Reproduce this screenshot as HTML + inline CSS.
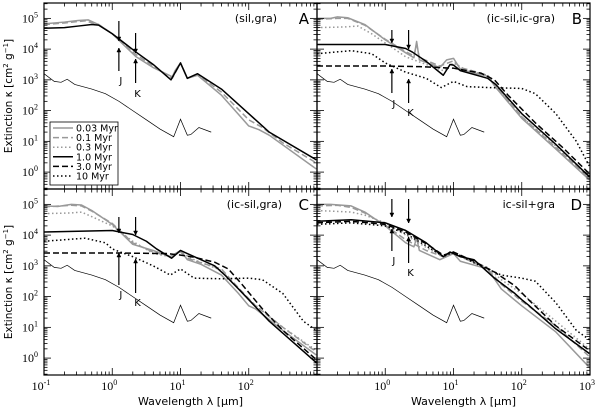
<!DOCTYPE html>
<html><head><meta charset="utf-8"><style>
html,body{margin:0;padding:0;background:#fff;}
svg{display:block;font-family:"DejaVu Sans","Liberation Sans",sans-serif;}
</style></head><body>
<svg id="chart" width="600" height="410" viewBox="0 0 600 410" xmlns="http://www.w3.org/2000/svg"></svg>
<script>
// ---- data: [log10 wavelength(um), log10 kappa] ----
const refThin = [[-1,3.2],[-0.85,2.95],[-0.75,2.92],[-0.66,3.02],[-0.55,2.85],[-0.3,2.7],[-0.1,2.55],[0.1,2.3],[0.3,2.0],[0.5,1.7],[0.7,1.4],[0.9,1.15],[1.0,1.72],[1.1,1.2],[1.15,1.22],[1.27,1.45],[1.45,1.3]];

const A_003 = [[-1,4.82],[-0.7,4.88],[-0.5,4.93],[-0.35,4.95],[-0.2,4.8],[0,4.5],[0.1,4.28],[0.35,3.75],[0.6,3.4],[0.88,3.1],[0.92,3.3],[1.0,3.55],[1.1,3.05],[1.25,3.15],[1.6,2.5],[1.9,1.75],[2.0,1.5],[2.15,1.38],[2.3,1.2],[2.99,0.1]];
const A_01 = [[-1,4.8],[-0.7,4.85],[-0.4,4.92],[-0.2,4.8],[0,4.5],[0.1,4.3],[0.35,3.82],[0.6,3.45],[0.88,3.05],[1.0,3.55],[1.1,3.05],[1.25,3.18],[1.6,2.6],[2.0,1.7],[2.2,1.45],[2.5,0.95],[2.99,0.3]];
const A_10 = [[-1,4.68],[-0.7,4.7],[-0.5,4.75],[-0.3,4.8],[-0.2,4.78],[0,4.5],[0.1,4.33],[0.35,3.9],[0.6,3.5],[0.86,3.0],[1.0,3.55],[1.1,3.05],[1.25,3.2],[1.6,2.7],[2.0,1.9],[2.3,1.3],[2.99,0.4]];

const B_003 = [[-1,5.0],[-0.8,5.0],[-0.7,5.05],[-0.55,5.02],[-0.3,4.8],[0,4.3],[0.3,3.88],[0.42,3.72],[0.46,4.25],[0.5,3.65],[0.8,3.4],[0.9,3.65],[1.0,3.7],[1.1,3.35],[1.3,3.22],[1.5,3.12],[1.62,2.75],[2.0,1.75],[2.5,0.75],[2.99,-0.25]];
const B_01 = [[-1,4.97],[-0.7,5.0],[-0.55,5.0],[-0.3,4.78],[0,4.32],[0.3,3.92],[0.42,3.78],[0.46,4.15],[0.5,3.72],[0.8,3.45],[1.0,3.62],[1.1,3.4],[1.3,3.28],[1.5,3.15],[1.62,2.8],[2.0,1.8],[2.5,0.8],[2.99,-0.2]];
const B_03 = [[-1,4.7],[-0.6,4.72],[-0.4,4.75],[-0.2,4.5],[0,4.2],[0.3,3.75],[0.6,3.5],[0.85,3.3],[1.0,3.55],[1.2,3.3],[1.5,3.15],[1.62,2.8],[2.0,1.8],[2.5,0.85],[2.99,-0.15]];
const B_10 = [[-1,4.15],[0,4.15],[0.3,4.02],[0.4,3.9],[0.6,3.6],[0.85,3.15],[0.95,3.5],[1.0,3.48],[1.1,3.3],[1.5,3.05],[1.62,2.85],[2.0,1.9],[2.5,0.9],[2.99,-0.15]];
const B_30 = [[-1,3.45],[0,3.45],[0.5,3.43],[1.0,3.38],[1.4,3.22],[1.6,3.0],[1.8,2.5],[2.2,1.6],[2.6,0.8],[2.99,-0.05]];
const B_100 = [[-1,3.85],[-0.5,3.95],[-0.2,3.85],[0,3.55],[0.3,3.25],[0.6,3.05],[0.82,2.75],[1.0,2.95],[1.2,2.78],[1.5,2.75],[2.0,2.72],[2.2,2.55],[2.5,1.9],[2.8,1.0],[2.99,0.2]];

const C_003 = [[-1,4.95],[-0.8,4.93],[-0.6,5.0],[-0.45,4.98],[-0.3,4.8],[0,4.35],[0.3,3.7],[0.6,3.5],[0.85,3.3],[1.0,3.5],[1.1,3.2],[1.3,3.05],[1.6,2.7],[1.85,2.1],[2.0,1.7],[2.1,1.6],[2.5,0.9],[2.99,0.1]];
const C_01 = [[-1,4.92],[-0.6,4.97],[-0.45,4.95],[-0.3,4.78],[0,4.38],[0.3,3.75],[0.6,3.45],[0.85,3.3],[1.0,3.45],[1.1,3.25],[1.3,3.1],[1.6,2.9],[1.8,2.4],[2.1,1.7],[2.5,1.0],[2.99,0.2]];
const C_03 = [[-1,4.7],[-0.6,4.72],[-0.45,4.75],[-0.2,4.5],[0,4.3],[0.3,3.8],[0.6,3.4],[0.85,3.3],[1.0,3.45],[1.2,3.2],[1.6,2.85],[2.0,1.9],[2.5,1.0],[2.99,0.25]];
const C_10 = [[-1,4.1],[0,4.15],[0.3,4.02],[0.5,3.8],[0.65,3.55],[0.87,3.25],[1.0,3.5],[1.1,3.4],[1.5,3.0],[1.65,2.7],[1.85,2.25],[2.0,1.9],[2.3,1.2],[2.99,-0.15]];
const C_30 = [[-1,3.42],[0,3.42],[0.8,3.4],[1.0,3.35],[1.2,3.28],[1.5,3.12],[1.7,2.9],[1.9,2.4],[2.2,1.6],[2.5,0.9],[2.99,-0.05]];
const C_100 = [[-1,3.8],[-0.4,3.9],[-0.1,3.75],[0,3.55],[0.3,3.3],[0.6,3.0],[0.85,2.7],[1.0,2.9],[1.2,2.6],[1.6,2.58],[2.0,2.6],[2.2,2.55],[2.5,2.1],[2.8,1.2],[2.99,0.9]];

const D_003 = [[-1,5.0],[-0.8,5.0],[-0.5,4.95],[-0.3,4.75],[0,4.3],[0.3,3.75],[0.42,3.62],[0.46,3.9],[0.5,3.5],[0.8,3.2],[1.0,3.4],[1.1,3.15],[1.5,2.9],[1.7,2.25],[2.0,1.7],[2.5,0.85],[2.99,-0.3]];
const D_01 = [[-1,4.95],[-0.7,4.97],[-0.5,4.9],[-0.3,4.72],[0,4.32],[0.3,3.85],[0.6,3.5],[0.85,3.3],[1.0,3.4],[1.2,3.2],[1.5,2.9],[1.7,2.4],[2.0,1.85],[2.5,1.05],[2.99,0.05]];
const D_03 = [[-1,4.8],[-0.5,4.75],[-0.3,4.65],[0,4.4],[0.3,4.0],[0.6,3.6],[0.85,3.3],[1.0,3.45],[1.2,3.2],[1.5,2.95],[1.7,2.55],[2.0,2.1],[2.5,1.2],[2.99,0.3]];
const D_10 = [[-1,4.45],[-0.5,4.5],[0,4.4],[0.3,4.15],[0.6,3.75],[0.85,3.3],[0.95,3.45],[1.1,3.3],[1.3,3.2],[1.6,2.6],[1.9,2.1],[2.0,1.9],[2.1,1.72],[2.5,0.95],[2.99,0.15]];
const D_30 = [[-1,4.4],[-0.5,4.45],[0,4.35],[0.3,4.1],[0.6,3.72],[0.85,3.35],[1.0,3.45],[1.3,3.15],[1.6,2.8],[1.9,2.35],[2.1,1.9],[2.5,1.05],[2.99,0.25]];
const D_100 = [[-1,4.35],[-0.5,4.4],[0,4.3],[0.3,4.05],[0.6,3.65],[0.85,3.3],[1.0,3.45],[1.3,3.1],[1.7,2.7],[2.0,2.6],[2.2,2.5],[2.5,1.8],[2.8,0.9],[2.99,0.6]];

const ageLabels = ["0.03 Myr","0.1 Myr","0.3 Myr","1.0 Myr","3.0 Myr","10 Myr"];
const yTickExp = [0,1,2,3,4,5];
const xTickExp = [-1,0,1,2,3];

const styles = [
  {c:"#999", d:""},{c:"#999", d:"6,3"},{c:"#999", d:"1.5,2.5"},
  {c:"#000", d:""},{c:"#000", d:"6,3"},{c:"#000", d:"1.5,2.5"}];

const panels = [
  {id:"A", x0:44, y0:3, label:"(sil,gra)", series:[A_003,A_01,null,A_10,null,null], xl:false, yl:true, arrows:[[0.097,18,38,68,45,72],[0.342,30,50,80,56,85]]},
  {id:"B", x0:317, y0:3, label:"(ic-sil,ic-gra)", series:[B_003,B_01,B_03,B_10,B_30,B_100], xl:false, yl:false, arrows:[[0.097,27,40,90,66,95],[0.342,27,46,100,76,104]]},
  {id:"C", x0:44, y0:189, label:"(ic-sil,gra)", series:[C_003,C_01,C_03,C_10,C_30,C_100], xl:true, yl:true, arrows:[[0.097,28,44,96,64,100],[0.342,28,46,104,70,108]]},
  {id:"D", x0:317, y0:189, label:"ic-sil+gra", series:[D_003,D_01,D_03,D_10,D_30,D_100], xl:true, yl:false, arrows:[[0.097,10,28,62,40,66],[0.342,10,34,74,48,78]]}
];
const W=273, H=186, XMIN=-1, XMAX=3, YMIN=-0.55, YMAX=5.5;

const svg=document.getElementById('chart');
const NS="http://www.w3.org/2000/svg";
function mk(tag,attrs,parent){const e=document.createElementNS(NS,tag);for(const k in attrs)e.setAttribute(k,attrs[k]);(parent||svg).appendChild(e);return e;}

panels.forEach((p,pi)=>{
  const sx=v=>p.x0+(v-XMIN)/(XMAX-XMIN)*W;
  const sy=v=>p.y0+H-(v-YMIN)/(YMAX-YMIN)*H;
  const g=mk('g',{});
  
  
  const cp=mk('clipPath',{id:'clip'+p.id},g);
  mk('rect',{x:p.x0,y:p.y0,width:W,height:H},cp);
  const plot=mk('g',{'clip-path':'url(#clip'+p.id+')'},g);
  const rl=mk('polyline',{points:refThin.map(d=>sx(d[0])+','+sy(d[1])).join(' '),fill:'none',stroke:'#000','stroke-width':0.7},plot);
  
  
  p.series.forEach((s,si)=>{
    if(!s)return;
    const st=styles[si];
    const l=mk('polyline',{points:s.map(d=>sx(d[0])+','+sy(d[1])).join(' '),fill:'none',stroke:st.c,'stroke-width':1.5,'stroke-dasharray':st.d,'stroke-linejoin':'round'},plot);
    
    
  });
  const tk=mk('g',{stroke:'#000','stroke-width':0.8},g);
  for(let e=-1;e<3;e++)for(let m=1;m<10;m++){
    const v=e+Math.log10(m); const x=sx(v); const L=m==1?7:3.5;
    if(v<=XMIN||v>=XMAX)continue;
    mk('line',{x1:x,y1:p.y0+H,x2:x,y2:p.y0+H-L},tk);
    mk('line',{x1:x,y1:p.y0,x2:x,y2:p.y0+L},tk);
  }
  for(let e=-1;e<6;e++)for(let m=1;m<10;m++){
    const v=e+Math.log10(m); const y=sy(v); const L=m==1?7:3.5;
    if(v<=YMIN||v>=YMAX)continue;
    mk('line',{x1:p.x0,y1:y,x2:p.x0+L,y2:y},tk);
    mk('line',{x1:p.x0+W,y1:y,x2:p.x0+W-L,y2:y},tk);
  }
  mk('rect',{x:p.x0,y:p.y0,width:W,height:H,fill:'none',stroke:'#000','stroke-width':1.2},g);
  if(p.yl){yTickExp.forEach(e=>{
    const t=mk('text',{x:38,y:sy(e)+4,'text-anchor':'end','font-size':12,'font-family':'"Liberation Serif",serif'},g);
    
    
    t.innerHTML='10<tspan dy="-5" font-size="8">'+e+'</tspan>';
  });}
  if(p.xl){xTickExp.forEach(e=>{
    if(p.x0===44&&e===3)return; if(p.x0===317&&e===-1)return;
    const t=mk('text',{x:sx(e)-3,y:p.y0+H+15,'text-anchor':'middle','font-size':12,'font-family':'"Liberation Serif",serif'},g);
    
    
    t.innerHTML='10<tspan dy="-5" font-size="8">'+e+'</tspan>';
  });
  const xt=mk('text',{x:p.x0+W/2+10,y:p.y0+H+30,'text-anchor':'middle','font-size':11},g);
  
  
  xt.textContent='Wavelength λ [μm]';}
  if(p.yl){const yt=mk('text',{x:0,y:0,'text-anchor':'middle','font-size':10.5,transform:'translate(12,'+(p.y0+H/2)+') rotate(-90)'},g);
  
  
  yt.innerHTML='Extinction κ [cm<tspan dy="-4" font-size="7">2</tspan><tspan dy="4"> g</tspan><tspan dy="-4" font-size="7">−1</tspan><tspan dy="4">]</tspan>';}
  const lb=mk('text',{x:p.x0+W-(p.id==='A'?40:35),y:p.y0+19,'text-anchor':'end','font-size':11},g);
  
  
  lb.textContent=p.label;
  const lt=mk('text',{x:p.x0+W-8,y:p.y0+21,'text-anchor':'end','font-size':15},g);
  
  
  lt.textContent=p.id;
  p.arrows.forEach((a,ai)=>{
    const x=sx(a[0]);
    const ag=mk('g',{stroke:'#000','stroke-width':1.2},g);
    
    
    mk('line',{x1:x,y1:p.y0+a[1],x2:x,y2:p.y0+a[2]},ag);
    mk('path',{d:`M${x-2},${p.y0+a[2]-4} L${x+2},${p.y0+a[2]-4} L${x},${p.y0+a[2]} Z`,fill:'#000','stroke-width':0.5},ag);
    mk('line',{x1:x,y1:p.y0+a[3],x2:x,y2:p.y0+a[4]},ag);
    mk('path',{d:`M${x-2},${p.y0+a[4]+4} L${x+2},${p.y0+a[4]+4} L${x},${p.y0+a[4]} Z`,fill:'#000','stroke-width':0.5},ag);
    const t=mk('text',{x:x+2,y:p.y0+a[5]+9,'text-anchor':'middle','font-size':10},g);
    
    
    t.textContent=ai?'K':'J';
  });
});
const lg=mk('g',{});


mk('rect',{x:50,y:122,width:68,height:63,fill:'#fff',stroke:'#000','stroke-width':0.8},lg);
ageLabels.forEach((t,i)=>{
  const y=128+i*9.6;
  const st=styles[i];
  const e=mk('g',{},lg);
  
  
  mk('line',{x1:53,y1:y,x2:73,y2:y,stroke:st.c,'stroke-width':1.5,'stroke-dasharray':st.d},e);
  const tx=mk('text',{x:76,y:y+3.5,'font-size':9.5},e);
  tx.textContent=t;
});
</script>
</body></html>
